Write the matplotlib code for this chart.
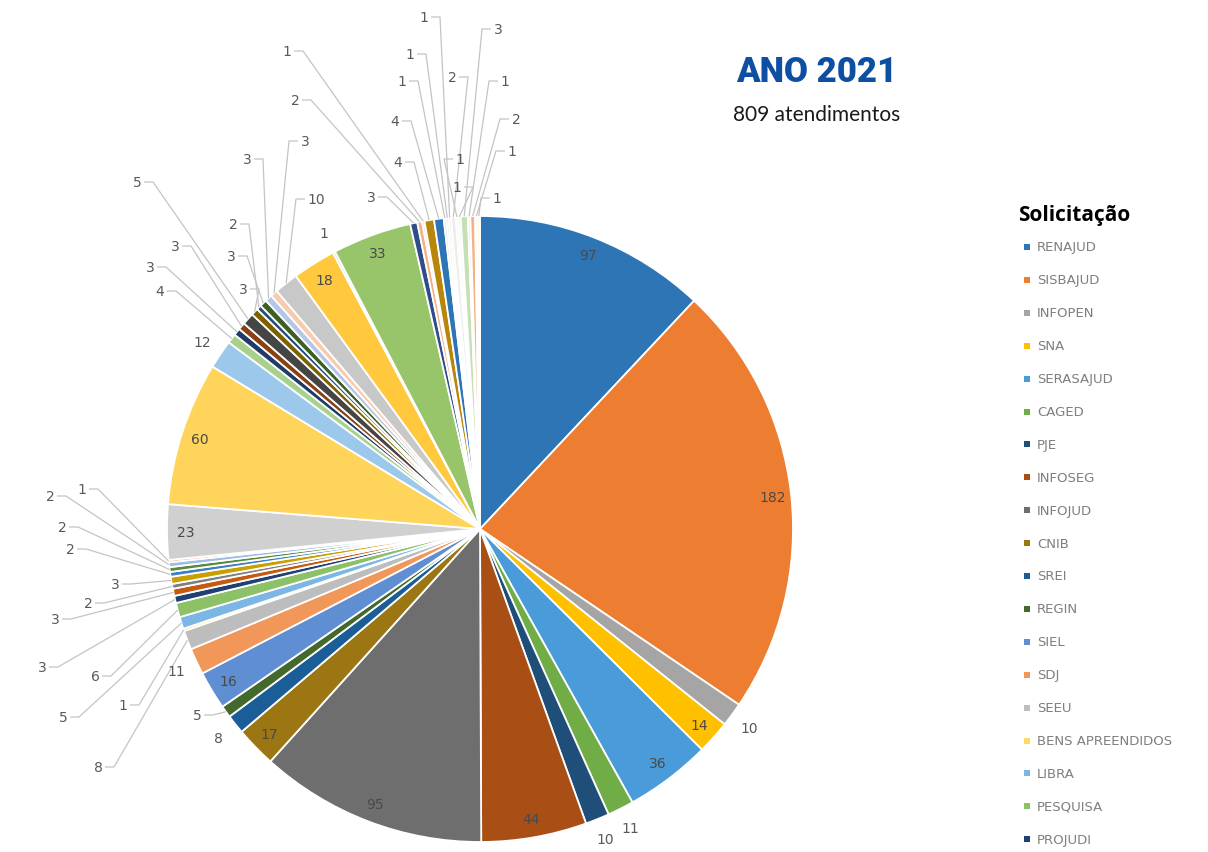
import numpy as np
import matplotlib
matplotlib.use('Agg')
import matplotlib.pyplot as plt

plt.rcParams['font.family'] = ['DejaVu Sans']

# legend names (only the first 19 are visible in the original)
names = ['RENAJUD', 'SISBAJUD', 'INFOPEN', 'SNA', 'SERASAJUD', 'CAGED', 'PJE',
         'INFOSEG', 'INFOJUD', 'CNIB', 'SREI', 'REGIN', 'SIEL', 'SDJ', 'SEEU',
         'BENS APREENDIDOS', 'LIBRA', 'PESQUISA', 'PROJUDI']

# all slices, clockwise from 12 o'clock
values = [97, 182, 10, 14, 36, 11, 10, 44, 95, 17, 8, 5, 16, 11,
          8, 1, 5, 6, 3, 3, 2, 3, 2, 2, 2, 1,
          23, 60, 12, 4,
          3, 3, 5, 3, 2, 3, 3, 3,
          10, 18, 1, 33,
          3, 2, 1, 4, 4, 1, 1, 1, 2, 1, 1, 3, 1, 2, 1, 1]

colors = ['#2E75B6', '#ED7D31', '#A5A5A5', '#FFC000', '#4A9BDA', '#70AD47',
          '#1F4E79', '#A94E14', '#6E6E6E', '#9C7612', '#1B5E97', '#44692C',
          '#5F8FD2', '#F1975A', '#BDBDBD', '#FFD966', '#7CB6E4', '#8CC168',
          '#203F73', '#C55A11', '#7F7F7F', '#C9A000', '#3A7FC4', '#5A8A39',
          '#9DBCE6', '#F4B183', '#D0D0D0', '#FFD45A', '#9CC8EC', '#A9D18E',
          '#223A66', '#8A4012', '#454545', '#7F6000', '#1F4E79', '#3E6024',
          '#B4C7E7', '#F8CBAD', '#C8C8C8', '#FFC83D', '#BDD7EE', '#98C46A',
          '#2F4D8A', '#F4B183', '#DBDBDB', '#B8860B', '#2E75B6', '#C5E0B4',
          '#DEEBF7', '#FBE5D6', '#EDEDED', '#FFF2CC', '#DDEBF7', '#C5E0B4',
          '#DAE3F3', '#F4B183', '#EDEDED', '#FFF2CC']

W, H = 1208, 853
CX, CY, R = 480, H - 530, 313

# label placement: inside, just outside, or with a leader line (pixel pos of text)
inside = [0, 1, 3, 4, 7, 8, 9, 12, 26, 27, 39, 41]
outside = [2, 5, 6, 10, 13, 28, 40]
leader_pos = {11: (197, 716),
              14: (98, 768), 15: (123, 706), 16: (63, 718), 17: (95, 677),
              18: (42, 668), 19: (55, 620), 20: (88, 604), 21: (115, 585),
              22: (70, 550), 23: (62, 528), 24: (50, 497), 25: (82, 490),
              29: (160, 292), 30: (150, 268), 31: (175, 247), 32: (137, 183),
              33: (243, 290), 34: (233, 225), 35: (231, 257), 36: (247, 160),
              37: (305, 142), 38: (316, 200),
              42: (371, 198), 43: (295, 101), 44: (287, 52), 45: (398, 163),
              46: (395, 122), 47: (402, 82), 48: (410, 55), 49: (424, 18),
              50: (452, 78), 51: (460, 160), 52: (457, 188), 53: (498, 30),
              54: (505, 82), 55: (516, 120), 56: (512, 152), 57: (497, 199)}

fig = plt.figure(figsize=(W / 100, H / 100), dpi=100)
ax = fig.add_axes([0, 0, 1, 1])

ax.pie(values, colors=colors, startangle=90, counterclock=False,
       center=(CX, CY), radius=R,
       wedgeprops=dict(edgecolor='white', linewidth=1.3))
ax.set_xlim(0, W)
ax.set_ylim(0, H)
ax.set_aspect('equal')
ax.axis('off')

vals = np.array(values, dtype=float)
mids = (np.cumsum(vals) - vals / 2) / vals.sum() * 2 * np.pi

lab_col = '#595959'
for i, v in enumerate(values):
    a = mids[i]
    if i in inside:
        ax.text(CX + 0.94 * R * np.sin(a), CY + 0.94 * R * np.cos(a), str(v),
                ha='center', va='center', fontsize=10, color='#4a4a4a')
    elif i in outside:
        ax.text(CX + 1.07 * R * np.sin(a), CY + 1.07 * R * np.cos(a), str(v),
                ha='center', va='center', fontsize=10, color=lab_col)
    elif i in leader_pos:
        px, py = leader_pos[i]
        lx, ly = px, H - py
        tx, ty = CX + R * np.sin(a), CY + R * np.cos(a)
        half = 4 * len(str(v)) + 3
        if tx >= lx:
            s0 = lx + half
            s1 = s0 + 9
        else:
            s0 = lx - half
            s1 = s0 - 9
        ax.plot([s0, s1, tx], [ly, ly, ty], color='#C4C4C4', lw=0.9,
                solid_capstyle='butt', zorder=1)
        ax.text(lx, ly, str(v), ha='center', va='center', fontsize=10,
                color=lab_col)

# titles
ax.text(817, H - 72, 'ANO 2021', ha='center', va='center', fontsize=25,
        fontweight='black', color='#0D4FA3', family=['Roboto', 'DejaVu Sans'])
ax.text(817, H - 115, '809 atendimentos', ha='center', va='center',
        fontsize=15, color='#1a1a1a', family=['Lato', 'DejaVu Sans'])

# legend
ax.text(1018, H - 216, 'Solicitação', ha='left', va='center', fontsize=15,
        fontweight='bold', color='black', family=['Open Sans', 'DejaVu Sans'])
for k, name in enumerate(names):
    y = H - (248 + k * 32.9)
    ax.scatter([1027], [y], marker='s', s=14, color=colors[k], linewidths=0)
    ax.text(1037, y, name, ha='left', va='center', fontsize=9.5,
            color='#7F7F7F')

fig.savefig('out.png', dpi=100)
